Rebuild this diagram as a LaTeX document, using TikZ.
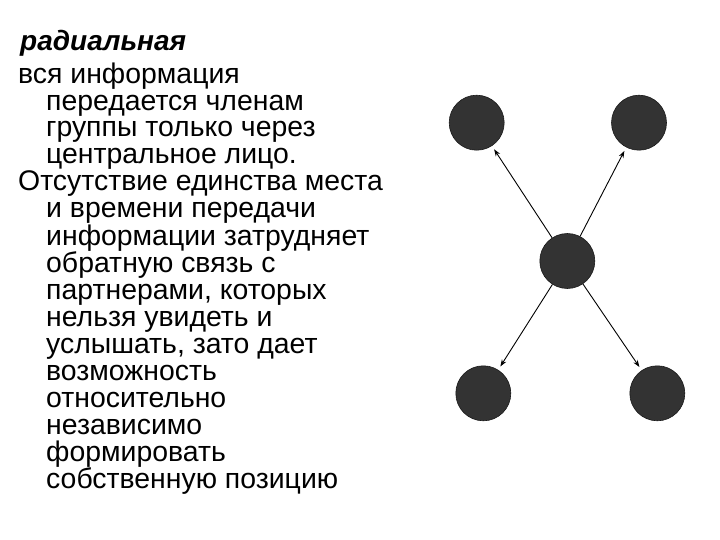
\documentclass[tikz,border=0pt]{standalone}
\usepackage{fontspec}
\setmainfont{Liberation Sans}
\usetikzlibrary{arrows.meta}
\begin{document}
\begin{tikzpicture}[x=1pt,y=-1pt,
  txt/.style={anchor=base west,inner sep=0pt,font=\fontsize{28.4}{27}\selectfont},
  ttl/.style={anchor=base west,inner sep=0pt,font=\fontsize{28}{27}\selectfont\bfseries\itshape},
  dot/.style={circle,fill=black!80,draw=black!90,line width=0.6pt,minimum size=55pt,inner sep=0pt},
  arr/.style={line width=0.9pt,-{Stealth[length=7pt,width=5pt]},shorten >=4pt}]
\useasboundingbox (0,0) rectangle (720,540);
\node[ttl] (title) at (20,51) {радиальная};
\node[txt] (t1) at (18,83.5) {вся информация};
\node[txt] (t2) at (46,110.5) {передается членам};
\node[txt] (t3) at (46,137) {группы только через};
\node[txt] (t4) at (46,163.5) {центральное лицо.};
\node[txt] (t5) at (18,191) {Отсутствие единства места};
\node[txt] (t6) at (46,218) {и времени передачи};
\node[txt] (t7) at (46,245) {информации затрудняет};
\node[txt] (t8) at (46,272) {обратную связь с};
\node[txt] (t9) at (46,299) {партнерами, которых};
\node[txt] (t10) at (46,326) {нельзя увидеть и};
\node[txt] (t11) at (46,353) {услышать, зато дает};
\node[txt] (t12) at (46,380) {возможность};
\node[txt] (t13) at (46,407) {относительно};
\node[txt] (t14) at (46,434) {независимо};
\node[txt] (t15) at (46,461) {формировать};
\node[txt] (t16) at (46,488.5) {собственную позицию};
\node[dot] (tl) at (476.7,122.7) {};
\node[dot] (tr) at (639,122.7) {};
\node[dot] (c) at (567.3,261) {};
\node[dot] (bl) at (483.3,393.3) {};
\node[dot] (br) at (657.3,393.3) {};
\draw[arr] (c) -- (tl);
\draw[arr] (c) -- (tr);
\draw[arr] (c) -- (bl);
\draw[arr] (c) -- (br);
\end{tikzpicture}
\end{document}
